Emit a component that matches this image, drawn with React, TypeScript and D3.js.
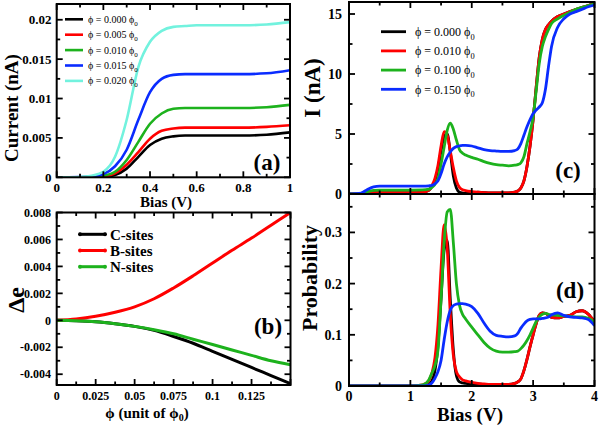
import React from 'react';
import * as d3 from 'd3';

const FONT = '"Liberation Serif", "Times New Roman", serif';

// ---------- Panel (a) data ----------
const biasA = [0, 0.05, 0.1, 0.15, 0.2, 0.25, 0.3, 0.35, 0.4, 0.45, 0.5, 0.55, 0.6, 0.7, 0.8, 0.9, 1.0];
const curA0 = [0, 0, 0, 0.00002, 0.00005, 0.0003, 0.0011, 0.0026, 0.0041, 0.0049, 0.0052, 0.0053, 0.0053, 0.0053, 0.0053, 0.0054, 0.0057];
const curA1 = [0, 0, 0, 0.00003, 0.0001, 0.0005, 0.0016, 0.0032, 0.0049, 0.0059, 0.0062, 0.0063, 0.0063, 0.0063, 0.0063, 0.0064, 0.0066];
const curA2 = [0, 0, 0.00001, 0.00005, 0.0002, 0.0007, 0.0022, 0.0045, 0.0068, 0.0081, 0.0087, 0.0088, 0.0088, 0.0088, 0.0088, 0.0089, 0.0092];
const curA3 = [0, 0, 0.00002, 0.0001, 0.0004, 0.0014, 0.0035, 0.0073, 0.0108, 0.0125, 0.013, 0.0131, 0.0131, 0.0131, 0.0131, 0.0132, 0.0136];
const curA4 = [0, 0, 0.00003, 0.0002, 0.0007, 0.0026, 0.0073, 0.014, 0.0172, 0.0186, 0.0191, 0.0192, 0.0193, 0.0193, 0.0193, 0.0194, 0.0197];
const legendA = ['0.000', '0.005', '0.010', '0.015', '0.020'];
const xTicksA = [0, 0.2, 0.4, 0.6, 0.8, 1];
const xTickLabelsA = ['0', '0.2', '0.4', '0.6', '0.8', '1'];
const yTicksA = [0, 0.005, 0.01, 0.015, 0.02];
const yTickLabelsA = ['0', '0.005', '0.01', '0.015', '0.02'];

// ---------- Panel (b) data ----------
const phiB = [0, 0.0125, 0.025, 0.0375, 0.05, 0.0625, 0.075, 0.0875, 0.1, 0.1125, 0.125, 0.1375, 0.15];
const deC = [0, -0.00003, -0.0001, -0.00025, -0.00045, -0.00075, -0.0012, -0.0017, -0.0023, -0.0029, -0.0035, -0.0041, -0.0047];
const deB = [0, 0.0001, 0.0003, 0.0006, 0.001, 0.0016, 0.0024, 0.0033, 0.00425, 0.0052, 0.0061, 0.00705, 0.008];
const deN = [0, -0.00003, -0.0001, -0.00025, -0.00045, -0.0007, -0.001, -0.0014, -0.0018, -0.0022, -0.0026, -0.003, -0.0033];
const legendB = ['C-sites', 'B-sites', 'N-sites'];
const xTicksB = [0, 0.025, 0.05, 0.075, 0.1, 0.125];
const xTickLabelsB = ['0', '0.025', '0.05', '0.075', '0.1', '0.125'];
const yTicksB = [-0.004, -0.002, 0, 0.002, 0.004, 0.006, 0.008];
const yTickLabelsB = ['-0.004', '-0.002', '0', '0.002', '0.004', '0.006', '0.008'];

// ---------- Panels (c),(d) data ----------
const biasCD = [0, 0.1, 0.2, 0.3, 0.4, 0.5, 0.75, 1.0, 1.2, 1.3, 1.35, 1.4, 1.45, 1.5, 1.55, 1.6, 1.65, 1.7, 1.75, 1.8, 1.85, 1.9, 2.0, 2.1, 2.2, 2.3, 2.4, 2.5, 2.6, 2.7, 2.75, 2.8, 2.85, 2.9, 2.95, 3.0, 3.05, 3.1, 3.15, 3.2, 3.25, 3.3, 3.4, 3.5, 3.6, 3.7, 3.8, 3.9, 4.0];

const curC0 = [0, 0, 0.02, 0.08, 0.12, 0.12, 0.12, 0.12, 0.14, 0.3, 0.6, 1.1, 2.1, 3.6, 4.8, 5.0, 3.5, 1.5, 0.5, 0.15, 0.08, 0.06, 0.05, 0.15, 0.12, 0.1, 0.1, 0.1, 0.1, 0.15, 0.25, 0.5, 1.1, 2.3, 4.0, 6.2, 8.9, 11.4, 12.9, 13.7, 14.1, 14.4, 14.8, 15.0, 15.2, 15.4, 15.55, 15.7, 15.9];
const curC1 = [0, 0, 0.02, 0.08, 0.12, 0.12, 0.12, 0.12, 0.14, 0.3, 0.7, 1.3, 2.4, 4.0, 5.2, 4.9, 3.6, 2.2, 1.1, 0.55, 0.35, 0.28, 0.2, 0.15, 0.12, 0.1, 0.1, 0.1, 0.1, 0.15, 0.25, 0.5, 1.1, 2.3, 4.0, 6.2, 8.9, 11.4, 12.9, 13.7, 14.1, 14.4, 14.8, 15.0, 15.2, 15.4, 15.55, 15.7, 15.9];
const curC2 = [0, 0, 0.05, 0.2, 0.3, 0.33, 0.33, 0.33, 0.34, 0.4, 0.55, 0.8, 1.3, 2.5, 3.9, 5.3, 5.9, 5.4, 4.5, 3.7, 3.4, 3.25, 3.05, 2.9, 2.7, 2.55, 2.45, 2.4, 2.35, 2.4, 2.45, 2.6, 3.1, 4.2, 5.2, 6.4, 8.6, 10.9, 12.3, 13.1, 13.7, 14.2, 14.6, 14.9, 15.15, 15.4, 15.55, 15.7, 15.85];
const curC3 = [0, 0.02, 0.08, 0.38, 0.6, 0.65, 0.65, 0.65, 0.65, 0.68, 0.72, 0.85, 1.1, 1.7, 2.5, 3.1, 3.5, 3.8, 3.95, 4.02, 4.05, 4.05, 4.0, 3.85, 3.7, 3.62, 3.58, 3.55, 3.55, 3.62, 3.75, 4.2, 4.9, 5.6, 6.2, 6.7, 7.0, 7.25, 7.6, 8.7, 10.6, 12.3, 13.9, 14.6, 15.0, 15.2, 15.4, 15.6, 15.75];

const probD0 = [0, 0, 0, 0, 0, 0, 0, 0, 0, 0.003, 0.01, 0.03, 0.08, 0.17, 0.265, 0.285, 0.17, 0.07, 0.02, 0.008, 0.006, 0.005, 0.004, 0.004, 0.003, 0.003, 0.003, 0.003, 0.003, 0.005, 0.008, 0.014, 0.03, 0.052, 0.077, 0.1, 0.122, 0.138, 0.143, 0.142, 0.138, 0.134, 0.133, 0.136, 0.138, 0.145, 0.147, 0.14, 0.125];
const probD1 = [0, 0, 0, 0, 0, 0, 0, 0, 0.002, 0.01, 0.025, 0.055, 0.12, 0.23, 0.315, 0.27, 0.14, 0.06, 0.028, 0.018, 0.012, 0.01, 0.007, 0.005, 0.004, 0.003, 0.003, 0.003, 0.003, 0.005, 0.008, 0.014, 0.03, 0.052, 0.077, 0.1, 0.122, 0.138, 0.143, 0.142, 0.138, 0.134, 0.133, 0.136, 0.138, 0.145, 0.147, 0.14, 0.125];
const probD2 = [0, 0, 0, 0, 0, 0, 0, 0, 0.002, 0.012, 0.025, 0.04, 0.07, 0.17, 0.28, 0.34, 0.345, 0.28, 0.2, 0.158, 0.14, 0.131, 0.115, 0.1, 0.085, 0.074, 0.068, 0.066, 0.066, 0.067, 0.068, 0.073, 0.08, 0.089, 0.1, 0.113, 0.126, 0.135, 0.14, 0.142, 0.14, 0.139, 0.138, 0.137, 0.136, 0.135, 0.135, 0.132, 0.125];
const probD3 = [0, 0, 0, 0, 0, 0, 0, 0, 0, 0.002, 0.006, 0.015, 0.028, 0.05, 0.09, 0.125, 0.148, 0.157, 0.16, 0.161, 0.161, 0.16, 0.155, 0.142, 0.123, 0.107, 0.099, 0.097, 0.096, 0.098, 0.103, 0.113, 0.121, 0.127, 0.13, 0.131, 0.131, 0.131, 0.132, 0.133, 0.135, 0.139, 0.143, 0.138, 0.135, 0.134, 0.133, 0.13, 0.118];

const legendCD = ['0.000', '0.010', '0.100', '0.150'];
const xTicksCD = [0, 1, 2, 3, 4];
const xTickLabelsCD = ['0', '1', '2', '3', '4'];
const yTicksC = [0, 5, 10, 15];
const yTickLabelsC = ['0', '5', '10', '15'];
const yTicksD = [0, 0.1, 0.2, 0.3];
const yTickLabelsD = ['0', '0.1', '0.2', '0.3'];

// ---------- styles ----------
const colorsA = ['#000000', '#ff0000', '#1db21d', '#0a2cff', '#72f2de'];
const colorsB = ['#000000', '#ff0000', '#1db21d'];
const colorsCD = ['#000000', '#ff0000', '#1db21d', '#0a2cff'];

type Rect = { l: number; r: number; t: number; b: number };

const stepRange = (a: number, b: number, s: number) => {
  const out: number[] = [];
  const n = Math.round((b - a) / s);
  for (let i = 0; i <= n; i++) out.push(+(a + i * s).toFixed(8));
  return out;
};

function Frame({ rc, xs, ys, xMajor, xMinor, yMajor, yMinor }: any) {
  const M = 6, m = 3.5;
  const els: any[] = [];
  const inRangeX = (v: number) => xs(v) >= rc.l - 0.5 && xs(v) <= rc.r + 0.5;
  const inRangeY = (v: number) => ys(v) >= rc.t - 0.5 && ys(v) <= rc.b + 0.5;
  const addX = (vals: number[], len: number, key: string) => {
    vals.filter(inRangeX).forEach((v, i) => {
      const x = xs(v);
      els.push(<line key={key + 'b' + i} x1={x} x2={x} y1={rc.b} y2={rc.b - len} />);
      els.push(<line key={key + 't' + i} x1={x} x2={x} y1={rc.t} y2={rc.t + len} />);
    });
  };
  const addY = (vals: number[], len: number, key: string) => {
    vals.filter(inRangeY).forEach((v, i) => {
      const y = ys(v);
      els.push(<line key={key + 'l' + i} x1={rc.l} x2={rc.l + len} y1={y} y2={y} />);
      els.push(<line key={key + 'r' + i} x1={rc.r} x2={rc.r - len} y1={y} y2={y} />);
    });
  };
  addX(xMajor, M, 'xM');
  addX(xMinor, m, 'xm');
  addY(yMajor, M, 'yM');
  addY(yMinor, m, 'ym');
  return (
    <g stroke="#000" strokeWidth={1.8} fill="none">
      {els}
      <rect x={rc.l} y={rc.t} width={rc.r - rc.l} height={rc.b - rc.t} strokeWidth={2} />
    </g>
  );
}

function Phi({ value, size }: { value: string; size: number }) {
  return (
    <>
      {'ϕ = ' + value + ' ϕ'}
      <tspan fontSize={size * 0.7} dy={size * 0.3}>0</tspan>
    </>
  );
}

export default function App() {
  // ----- (a) -----
  const rA: Rect = { l: 56.7, r: 290, t: 4, b: 177.3 };
  const xA = d3.scaleLinear().domain([0, 1]).range([rA.l, rA.r]);
  const yA = d3.scaleLinear().domain([0, 0.022]).range([rA.b, rA.t]);
  const seriesA = [curA0, curA1, curA2, curA3, curA4];
  const lineA = (arr: number[]) =>
    d3.line<number>().x((_, i) => xA(biasA[i])).y(d => yA(d)).curve(d3.curveMonotoneX)(arr) || '';

  // ----- (b) -----
  const rB: Rect = { l: 56.7, r: 290.5, t: 212.5, b: 385 };
  const xB = d3.scaleLinear().domain([0, 0.15]).range([rB.l, rB.r]);
  const yB = d3.scaleLinear().domain([-0.0048, 0.008]).range([rB.b, rB.t]);
  const seriesB = [deC, deB, deN];
  const lineB = (arr: number[]) =>
    d3.line<number>().x((_, i) => xB(phiB[i])).y(d => yB(d)).curve(d3.curveCatmullRom.alpha(0.5))(arr) || '';

  // ----- (c) -----
  const rC: Rect = { l: 349, r: 594.5, t: 2, b: 194 };
  const xC = d3.scaleLinear().domain([0, 4]).range([rC.l, rC.r]);
  const yC = d3.scaleLinear().domain([0, 16]).range([rC.b, rC.t]);
  const seriesC = [curC0, curC1, curC2, curC3];
  const lineC = (arr: number[]) =>
    d3.line<number>().x((_, i) => xC(biasCD[i])).y(d => yC(d)).curve(d3.curveMonotoneX)(arr) || '';

  // ----- (d) -----
  const rD: Rect = { l: 349, r: 594.5, t: 194, b: 386 };
  const xD = d3.scaleLinear().domain([0, 4]).range([rD.l, rD.r]);
  const yD = d3.scaleLinear().domain([0, 0.375]).range([rD.b, rD.t]);
  const seriesD = [probD0, probD1, probD2, probD3];
  const lineD = (arr: number[]) =>
    d3.line<number>().x((_, i) => xD(biasCD[i])).y(d => yD(d)).curve(d3.curveMonotoneX)(arr) || '';

  const bold = { fontFamily: FONT, fontWeight: 700 as const };

  return (
    <svg width={600} height={426} style={{ position: 'fixed', left: 0, top: 0, background: '#fff' }}>
      <defs>
        <clipPath id="clipA"><rect x={rA.l} y={rA.t} width={rA.r - rA.l} height={rA.b - rA.t} /></clipPath>
        <clipPath id="clipB"><rect x={rB.l} y={rB.t} width={rB.r - rB.l} height={rB.b - rB.t} /></clipPath>
        <clipPath id="clipC"><rect x={rC.l} y={rC.t} width={rC.r - rC.l} height={rC.b - rC.t} /></clipPath>
        <clipPath id="clipD"><rect x={rD.l} y={rD.t} width={rD.r - rD.l} height={rD.b - rD.t + 1} /></clipPath>
      </defs>
      <rect x={0} y={0} width={600} height={426} fill="#fff" />

      {/* ================= (a) ================= */}
      <g clipPath="url(#clipA)">
        {seriesA.map((s, i) => (
          <path key={i} d={lineA(s)} fill="none" stroke={colorsA[i]} strokeWidth={2.6} />
        ))}
      </g>
      <Frame rc={rA} xs={xA} ys={yA} xMajor={stepRange(0, 1, 0.2)} xMinor={stepRange(0.1, 0.9, 0.2)}
        yMajor={stepRange(0, 0.02, 0.005)} yMinor={stepRange(0.0025, 0.0225, 0.005)} />
      {yTicksA.map((v, i) => (
        <text key={i} x={51.5} y={yA(v)} dy="0.35em" textAnchor="end" fontSize={13} {...bold}>{yTickLabelsA[i]}</text>
      ))}
      {xTicksA.map((v, i) => (
        <text key={i} x={xA(v)} y={192} textAnchor="middle" fontSize={13} {...bold}>{xTickLabelsA[i]}</text>
      ))}
      <text x={166} y={207} textAnchor="middle" fontSize={15} {...bold}>Bias (V)</text>
      <text transform="translate(18,108) rotate(-90)" textAnchor="middle" fontSize={19} {...bold}>Current (nA)</text>
      {legendA.map((lab, i) => {
        const y = 19.3 + i * 15.4;
        return (
          <g key={i}>
            <line x1={65} x2={83} y1={y} y2={y} stroke={colorsA[i]} strokeWidth={2.6} />
            <text x={88} y={y} dy="0.35em" fontSize={10} fontFamily={FONT}><Phi value={lab} size={10} /></text>
          </g>
        );
      })}
      <text x={267} y={170} textAnchor="middle" fontSize={23} {...bold}>(a)</text>

      {/* ================= (b) ================= */}
      <g clipPath="url(#clipB)">
        {seriesB.map((s, i) => (
          <path key={i} d={lineB(s)} fill="none" stroke={colorsB[i]} strokeWidth={3} />
        ))}
      </g>
      <Frame rc={rB} xs={xB} ys={yB} xMajor={stepRange(0, 0.15, 0.025)} xMinor={stepRange(0.0125, 0.1375, 0.025)}
        yMajor={stepRange(-0.004, 0.008, 0.002)} yMinor={stepRange(-0.005, 0.007, 0.002)} />
      {yTicksB.map((v, i) => (
        <text key={i} x={51} y={yB(v)} dy="0.35em" textAnchor="end" fontSize={12} {...bold}>{yTickLabelsB[i]}</text>
      ))}
      {xTicksB.map((v, i) => (
        <text key={i} x={xB(v)} y={400} textAnchor="middle" fontSize={12} {...bold}>{xTickLabelsB[i]}</text>
      ))}
      <text x={147} y={418} textAnchor="middle" fontSize={15} {...bold}>
        {'ϕ (unit of ϕ'}<tspan fontSize={10} dy={3}>0</tspan><tspan dy={-3}>)</tspan>
      </text>
      <text transform="translate(24,300) rotate(-90)" textAnchor="middle" fontSize={24} {...bold}>Δe</text>
      {legendB.map((lab, i) => {
        const y = 234.3 + i * 16.2;
        return (
          <g key={i}>
            <line x1={79} x2={106} y1={y} y2={y} stroke={colorsB[i]} strokeWidth={3} />
            <circle cx={80} cy={y} r={2} fill={colorsB[i]} />
            <circle cx={105} cy={y} r={2} fill={colorsB[i]} />
            <text x={110} y={y} dy="0.35em" fontSize={15} {...bold}>{lab}</text>
          </g>
        );
      })}
      <text x={268} y={334} textAnchor="middle" fontSize={23} {...bold}>(b)</text>

      {/* ================= (c) ================= */}
      <g clipPath="url(#clipC)">
        {seriesC.map((s, i) => (
          <path key={i} d={lineC(s)} fill="none" stroke={colorsCD[i]} strokeWidth={2.8} />
        ))}
      </g>
      <Frame rc={rC} xs={xC} ys={yC} xMajor={stepRange(0, 4, 1)} xMinor={stepRange(0.5, 3.5, 1)}
        yMajor={stepRange(0, 15, 5)} yMinor={stepRange(2.5, 12.5, 5)} />
      {yTicksC.map((v, i) => (
        <text key={i} x={342} y={yC(v)} dy="0.35em" textAnchor="end" fontSize={14} {...bold}>{yTickLabelsC[i]}</text>
      ))}
      <text transform="translate(320,88) rotate(-90)" textAnchor="middle" fontSize={23} {...bold}>I (nA)</text>
      {legendCD.map((lab, i) => {
        const y = 31.7 + i * 19.2;
        return (
          <g key={i}>
            <line x1={381} x2={406} y1={y} y2={y} stroke={colorsCD[i]} strokeWidth={2.8} />
            <text x={415} y={y} dy="0.35em" fontSize={12} fontFamily={FONT}><Phi value={lab} size={12} /></text>
          </g>
        );
      })}
      <text x={568} y={178} textAnchor="middle" fontSize={23} {...bold}>(c)</text>

      {/* ================= (d) ================= */}
      <g clipPath="url(#clipD)">
        {seriesD.map((s, i) => (
          <path key={i} d={lineD(s)} fill="none" stroke={colorsCD[i]} strokeWidth={2.8} />
        ))}
      </g>
      <Frame rc={rD} xs={xD} ys={yD} xMajor={stepRange(0, 4, 1)} xMinor={stepRange(0.5, 3.5, 1)}
        yMajor={stepRange(0, 0.3, 0.1)} yMinor={stepRange(0.05, 0.35, 0.1)} />
      {yTicksD.map((v, i) => (
        <text key={i} x={342} y={yD(v)} dy="0.35em" textAnchor="end" fontSize={14} {...bold}>{yTickLabelsD[i]}</text>
      ))}
      {xTicksCD.map((v, i) => (
        <text key={i} x={xD(v)} y={401} textAnchor="middle" fontSize={14} {...bold}>{xTickLabelsCD[i]}</text>
      ))}
      <text x={470} y={421} textAnchor="middle" fontSize={19} {...bold}>Bias (V)</text>
      <text transform="translate(317,278) rotate(-90)" textAnchor="middle" fontSize={22} {...bold}>Probability</text>
      <text x={570} y={298} textAnchor="middle" fontSize={23} {...bold}>(d)</text>
    </svg>
  );
}
